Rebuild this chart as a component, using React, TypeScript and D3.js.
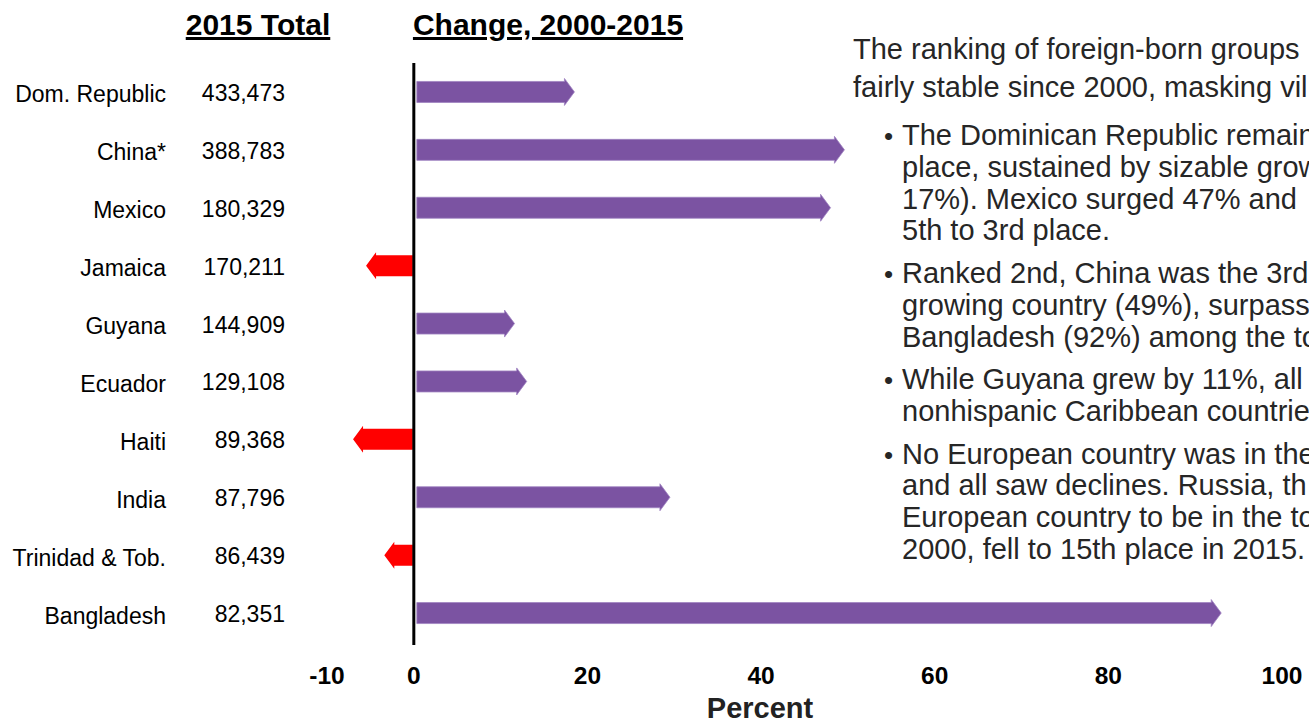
import React from "react";
import * as d3 from "d3";

const countries = ["Dom. Republic", "China*", "Mexico", "Jamaica", "Guyana", "Ecuador", "Haiti", "India", "Trinidad & Tob.", "Bangladesh"];
const totals2015 = ["433,473", "388,783", "180,329", "170,211", "144,909", "129,108", "89,368", "87,796", "86,439", "82,351"];
const change = [18.5, 49.6, 48, -5.5, 11.6, 13, -7, 29.5, -3.4, 93];
const ticks = [-10, 0, 20, 40, 60, 80, 100];

const introLines = ["The ranking of foreign-born groups", "fairly stable since 2000, masking vil"];
const bullets = [
  ["The Dominican Republic remain", "place, sustained by sizable grow", "17%). Mexico surged 47% and", "5th to 3rd place."],
  ["Ranked 2nd, China was the 3rd", "growing country (49%), surpass", "Bangladesh (92%) among the to"],
  ["While Guyana grew by 11%, all", "nonhispanic Caribbean countrie"],
  ["No European country was in the", "and all saw declines. Russia, th", "European country to be in the to", "2000, fell to 15th place in 2015."],
];

const W = 1309;
const H = 721;
const FONT = "'Liberation Sans', Arial, Helvetica, sans-serif";

export default function App() {
  const x = d3.scaleLinear().domain([-10, 100]).range([327, 1282]);
  const y = d3.scaleBand().domain(countries).range([63, 642]);
  const x0 = x(0);
  const bodyH = 10.5;
  const headH = 13.5;
  const headL = 10;

  const arrow = (v: number, cy: number) => {
    const tip = x(v);
    if (v >= 0) {
      const s = x0 + 3;
      const b = tip - headL;
      return `M${s},${cy - bodyH}L${b},${cy - bodyH}L${b},${cy - headH}L${tip},${cy}L${b},${cy + headH}L${b},${cy + bodyH}L${s},${cy + bodyH}Z`;
    } else {
      const s = x0 - 1;
      const b = tip + headL;
      return `M${s},${cy - bodyH}L${b},${cy - bodyH}L${b},${cy - headH}L${tip},${cy}L${b},${cy + headH}L${b},${cy + bodyH}L${s},${cy + bodyH}Z`;
    }
  };

  const bulletBaselines: number[][] = [];
  let yb = 145;
  bullets.forEach((p) => {
    const arr: number[] = [];
    p.forEach(() => {
      arr.push(yb);
      yb += 31.8;
    });
    bulletBaselines.push(arr);
    yb += 10.8;
  });

  return (
    <svg width={W} height={H} style={{ position: "absolute", left: 0, top: 0, background: "#fff" }} fontFamily={FONT}>
      <text x={258} y={35} textAnchor="middle" fontSize={30} fontWeight="bold" textDecoration="underline" fill="#000">2015 Total</text>
      <text x={548} y={35} textAnchor="middle" fontSize={30} fontWeight="bold" textDecoration="underline" fill="#000">Change, 2000-2015</text>

      {countries.map((c, i) => {
        const cy = (y(c) as number) + y.bandwidth() / 2;
        return (
          <g key={c}>
            <text x={166} y={cy + 10.5} textAnchor="end" fontSize={23} fill="#000">{c}</text>
            <text x={285} y={cy + 9} textAnchor="end" fontSize={23} fill="#000">{totals2015[i]}</text>
            <path d={arrow(change[i], cy)} fill={change[i] >= 0 ? "#7b53a2" : "#ff0000"} stroke={change[i] >= 0 ? "#9f83c2" : "none"} strokeWidth={0.8} />
          </g>
        );
      })}

      <line x1={x0} x2={x0} y1={63} y2={645} stroke="#000" strokeWidth={3} />

      {ticks.map((t) => (
        <text key={t} x={x(t)} y={684} textAnchor="middle" fontSize={24.5} fontWeight="bold" fill="#000">{t}</text>
      ))}
      <text x={760} y={718} textAnchor="middle" fontSize={29} fontWeight="bold" fill="#222">Percent</text>

      {introLines.map((l, i) => (
        <text key={l} x={853} y={59 + i * 38} fontSize={29} fill="#262626">{l}</text>
      ))}
      {bullets.map((p, pi) => (
        <g key={pi}>
          <text x={884} y={bulletBaselines[pi][0]} fontSize={26} fill="#262626">•</text>
          {p.map((l, li) => (
            <text key={li} x={902} y={bulletBaselines[pi][li]} fontSize={29} fill="#262626">{l}</text>
          ))}
        </g>
      ))}
    </svg>
  );
}
